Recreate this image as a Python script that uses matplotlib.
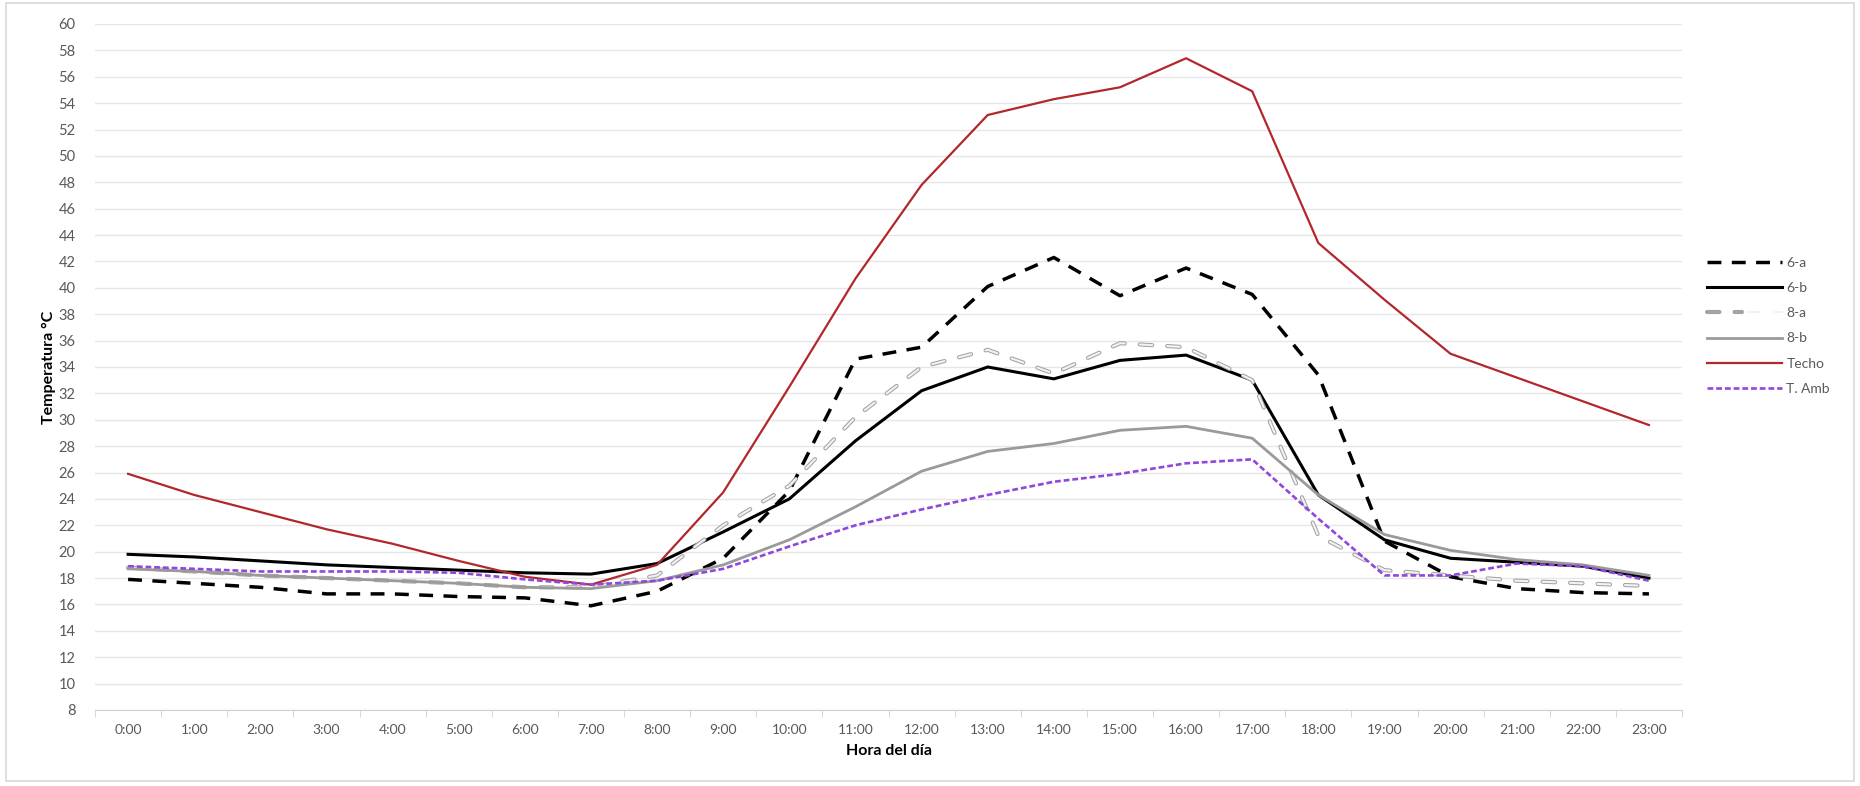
import numpy as np
import matplotlib.pyplot as plt
from matplotlib.legend_handler import HandlerTuple

plt.rcParams['font.family'] = ['Lato', 'DejaVu Sans']

# Data
horas = [f'{h}:00' for h in range(24)]
s6a = [17.9, 17.6, 17.3, 16.8, 16.8, 16.6, 16.5, 15.9, 17.0, 19.5, 24.6, 34.6,
       35.5, 40.1, 42.3, 39.4, 41.5, 39.5, 33.4, 20.8, 18.1, 17.2, 16.9, 16.8]
s6b = [19.8, 19.6, 19.3, 19.0, 18.8, 18.6, 18.4, 18.3, 19.1, 21.5, 24.0, 28.4,
       32.2, 34.0, 33.1, 34.5, 34.9, 33.0, 24.3, 20.9, 19.5, 19.2, 18.9, 18.0]
s8a = [18.8, 18.5, 18.2, 18.0, 17.8, 17.6, 17.3, 17.3, 18.2, 22.0, 25.0, 30.2,
       34.0, 35.3, 33.5, 35.8, 35.5, 33.0, 21.2, 18.6, 18.2, 17.8, 17.6, 17.4]
s8b = [18.7, 18.5, 18.2, 18.0, 17.8, 17.6, 17.3, 17.2, 17.8, 19.0, 20.9, 23.4,
       26.1, 27.6, 28.2, 29.2, 29.5, 28.6, 24.3, 21.3, 20.1, 19.4, 19.0, 18.2]
techo = [25.9, 24.3, 23.0, 21.7, 20.6, 19.3, 18.1, 17.5, 19.0, 24.5, 32.5, 40.7,
         47.8, 53.1, 54.3, 55.2, 57.4, 54.9, 43.4, 39.1, 35.0, 33.2, 31.4, 29.6]
tamb = [18.9, 18.7, 18.5, 18.5, 18.5, 18.4, 17.9, 17.5, 17.8, 18.7, 20.4, 22.0,
        23.2, 24.3, 25.3, 25.9, 26.7, 27.0, 22.5, 18.2, 18.2, 19.1, 18.9, 17.8]

fig = plt.figure(figsize=(18.6, 7.86), dpi=100)
ax = fig.add_axes([0.0511, 0.0967, 0.8532, 0.8728])
x = np.arange(len(horas))

l6a, = ax.plot(x, s6a, color='black', lw=2.5, dashes=(4, 3), label='6-a')
l6b, = ax.plot(x, s6b, color='black', lw=2.2, label='6-b')
# 8-a: light "pill" dashes with a grey outline
l8a_o, = ax.plot(x, s8a, color='#a3a3a3', lw=3.0, dashes=(3.0, 3.6),
                 dash_capstyle='round')
l8a_i, = ax.plot(x, s8a, color='#f2f2f2', lw=1.5, dashes=(6.0, 7.2),
                 dash_capstyle='round')
l8b, = ax.plot(x, s8b, color='#9a9a9a', lw=2.0, label='8-b')
ltec, = ax.plot(x, techo, color='#b3272b', lw=1.6, label='Techo')
lamb, = ax.plot(x, tamb, color='#8f47dc', lw=1.9, dashes=(2.2, 1.1), label='T. Amb')

ax.set_xlim(-0.5, 23.5)
ax.set_ylim(8, 60)
ax.set_yticks(np.arange(8, 61, 2))
ax.set_xticks(x)
ax.set_xticklabels(horas)
ax.set_xticks(np.arange(-0.5, 24, 1), minor=True)
ax.tick_params(axis='x', which='major', length=0, labelsize=10, colors='#595959', pad=10)
ax.tick_params(axis='x', which='minor', length=5, color='#d0d0d0')
ax.tick_params(axis='y', length=0, labelsize=10.5, colors='#595959', pad=14)
ax.grid(axis='y', color='#e6e6e6', lw=1)
ax.set_axisbelow(True)
for s in ['top', 'right', 'left']:
    ax.spines[s].set_visible(False)
ax.spines['bottom'].set_color('#d0d0d0')

ax.set_xlabel('Hora del día', fontsize=11.5, fontweight='bold', labelpad=6)
ax.set_ylabel('Temperatura °C', fontsize=11.5, fontweight='bold', labelpad=2)

ax.legend([l6a, l6b, (l8a_o, l8a_i), l8b, ltec, lamb],
          ['6-a', '6-b', '8-a', '8-b', 'Techo', 'T. Amb'],
          handler_map={tuple: HandlerTuple(ndivide=None)},
          loc='center left', bbox_to_anchor=(1.008, 0.56), frameon=False,
          fontsize=10, labelcolor='#595959', handlelength=5.4,
          handletextpad=0.3, labelspacing=0.95)

# light frame around the chart
fig.patches.append(plt.Rectangle((0.003, 0.006), 0.994, 0.99, transform=fig.transFigure,
                                 fill=False, edgecolor='#d9d9d9', lw=1.2))

fig.savefig('out.png', dpi=100)
